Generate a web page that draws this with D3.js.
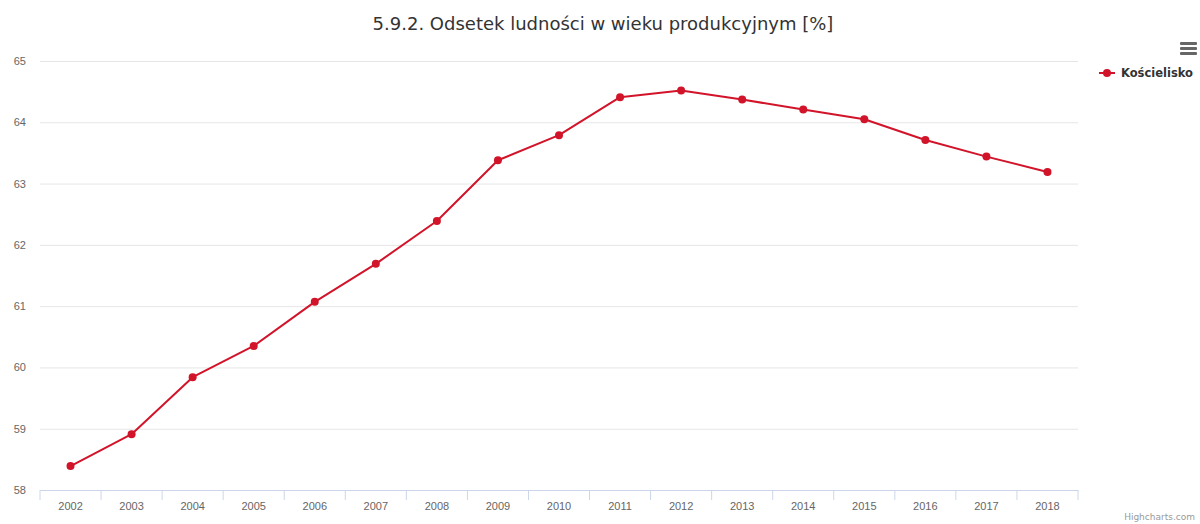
<!DOCTYPE html>
<html>
<head>
<meta charset="utf-8">
<script src="https://cdn.jsdelivr.net/npm/d3@7"></script>
<style>
  body { margin: 0; background: #fff; }
  svg { font-family: "DejaVu Sans", "Lucida Grande", sans-serif; }
</style>
</head>
<body>
<svg></svg>
<script>
const years = ["2002", "2003", "2004", "2005", "2006", "2007", "2008", "2009", "2010",
	"2011", "2012", "2013", "2014", "2015", "2016", "2017", "2018"];
const values = [58.39, 58.91, 59.84, 60.35, 61.07, 61.69, 62.39, 63.38, 63.79,
	64.41, 64.52, 64.37, 64.21, 64.05, 63.71, 63.44, 63.19];
const yTicks = [58, 59, 60, 61, 62, 63, 64, 65];
const seriesName = "Kościelisko";
const title = "5.9.2. Odsetek ludności w wieku produkcyjnym [%]";

const W = 1200, H = 524;
const plot = { l: 40, r: 1078, t: 61, b: 490 };
const red = "#d2142a";

const svg = d3.select("svg").attr("width", W).attr("height", H);

const x = d3.scaleBand().domain(years).range([plot.l, plot.r]);
const y = d3.scaleLinear().domain([58, 65]).range([plot.b, plot.t]);

// title
svg.append("text")
	.attr("x", 603).attr("y", 30)
	.attr("text-anchor", "middle")
	.attr("fill", "#333")
	.attr("font-size", 18)
	.text(title);

// grid lines + y labels
const axisY = d3.axisLeft(y).tickValues(yTicks).tickSize(-(plot.r - plot.l)).tickFormat(d3.format("d"));
const gy = svg.append("g").attr("transform", `translate(${plot.l},0)`).call(axisY);
gy.select(".domain").remove();
gy.selectAll(".tick line").attr("stroke", "#e6e6e6");
gy.selectAll(".tick text")
	.attr("x", -14).attr("dy", "0.32em")
	.attr("fill", "#666").attr("font-size", 11);

// x axis
const axisX = d3.axisBottom(x).tickSize(0);
const gx = svg.append("g").attr("transform", `translate(0,${plot.b})`).call(axisX);
gx.select(".domain").attr("stroke", "#ccd6eb");
gx.selectAll(".tick text").attr("y", 12).attr("dy", "0.71em").attr("fill", "#666").attr("font-size", 11);
// tick marks at band boundaries
gx.selectAll("line.bnd")
	.data(years.concat(["end"]))
	.enter().append("line")
	.attr("class", "bnd")
	.attr("x1", (d, i) => plot.l + i * x.step())
	.attr("x2", (d, i) => plot.l + i * x.step())
	.attr("y1", 0).attr("y2", 10)
	.attr("stroke", "#ccd6eb");

// line
const cx = (d, i) => x(years[i]) + x.bandwidth() / 2;
svg.append("path")
	.datum(values)
	.attr("fill", "none")
	.attr("stroke", red)
	.attr("stroke-width", 2)
	.attr("stroke-linejoin", "round")
	.attr("d", d3.line().x(cx).y(d => y(d)));

svg.selectAll("circle.pt")
	.data(values)
	.enter().append("circle")
	.attr("class", "pt")
	.attr("cx", cx)
	.attr("cy", d => y(d))
	.attr("r", 4)
	.attr("fill", red);

// legend
const lg = svg.append("g").attr("transform", "translate(1099,73)");
lg.append("line").attr("x1", 0).attr("x2", 16).attr("stroke", red).attr("stroke-width", 2);
lg.append("circle").attr("cx", 8).attr("r", 4).attr("fill", red);
lg.append("text").attr("x", 22).attr("dy", "0.35em")
	.attr("font-size", 11.5).attr("font-weight", "bold").attr("fill", "#333")
	.text(seriesName);

// menu icon
[0, 5, 10].forEach(dy => {
	svg.append("rect").attr("x", 1180).attr("y", 42 + dy).attr("width", 17).attr("height", 3)
		.attr("rx", 1).attr("fill", "#666");
});

// credits
svg.append("text")
	.attr("x", 1195).attr("y", 520)
	.attr("text-anchor", "end")
	.attr("font-size", 9).attr("fill", "#999")
	.text("Highcharts.com");
</script>
</body>
</html>
